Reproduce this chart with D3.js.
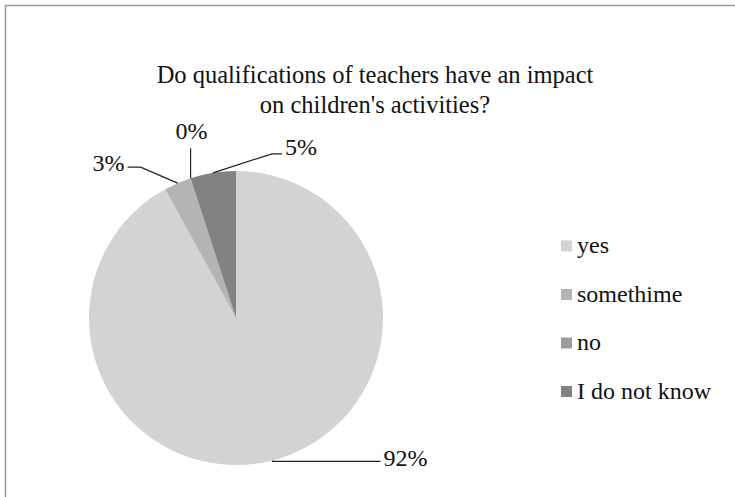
<!DOCTYPE html>
<html>
<head>
<meta charset="utf-8">
<script src="https://cdn.jsdelivr.net/npm/d3@7/dist/d3.min.js"></script>
<style>
  html, body { margin: 0; padding: 0; background: #fff; }
  svg { display: block; }
</style>
</head>
<body>
<svg id="chart" width="735" height="497"></svg>
<script>
// Survey answers and their shares (percent)
const categories = ["yes", "somethime", "no", "I do not know"];
const shares = [92, 3, 0, 5];
const sliceColors = ["#d3d3d3", "#b4b4b4", "#9c9c9c", "#828282"];
const titleLines = ["Do qualifications of teachers have an impact", "on children's activities?"];

const W = 735, H = 497;
const FONT = '"Liberation Serif"';
const svg = d3.select("#chart");

// outer frame (runs off the right and bottom edges)
svg.append("rect")
  .attr("x", 5.5).attr("y", 5.5)
  .attr("width", W + 20).attr("height", H + 20)
  .attr("fill", "#fff")
  .attr("stroke", "#9a9a9a").attr("stroke-width", 1.5);

// title
titleLines.forEach((line, i) => {
  svg.append("text")
    .attr("x", 375)
    .attr("y", 83 + i * 30)
    .attr("text-anchor", "middle")
    .style("font-family", FONT)
    .attr("font-size", 24.5)
    .attr("fill", "#111")
    .text(line);
});

// pie
const cx = 236, cy = 318, R = 147;
const data = categories.map((c, i) => ({ name: c, value: shares[i], color: sliceColors[i] }));
const pie = d3.pie().sort(null).value(d => d.value);
const arcs = pie(data);
const arc = d3.arc().innerRadius(0).outerRadius(R);

const g = svg.append("g").attr("transform", `translate(${cx},${cy})`);
g.selectAll("path").data(arcs).join("path")
  .attr("d", arc)
  .attr("fill", d => d.data.color);

// data labels with leader lines, each starting on its slice's outer edge
// bend: offset of the elbow from the edge point, run: horizontal segment, text: offset from line end
const labelLayout = {
  "yes":           { bend: [0, 1],     run: 108, anchor: "start",  text: [3, 5] },
  "somethime":     { bend: [-37, -16], run: -13, anchor: "end",    text: [-3, 4] },
  "no":            { bend: [0, -30],   run: 0,   anchor: "middle", text: [1, -9] },
  "I do not know": { bend: [59, -19],  run: 10,  anchor: "start",  text: [3, 1] }
};

const labels = svg.append("g");
arcs.forEach(a => {
  const mid = (a.startAngle + a.endAngle) / 2;
  const px = cx + R * Math.sin(mid);
  const py = cy - R * Math.cos(mid);
  const L = labelLayout[a.data.name];
  const bx = px + L.bend[0], by = py + L.bend[1];
  const ex = bx + L.run, ey = by;
  labels.append("polyline")
    .attr("points", [[px, py], [bx, by], [ex, ey]].map(p => p.join(",")).join(" "))
    .attr("fill", "none")
    .attr("stroke", "#222")
    .attr("stroke-width", 1.2);
  labels.append("text")
    .attr("x", ex + L.text[0])
    .attr("y", ey + L.text[1])
    .attr("text-anchor", L.anchor)
    .style("font-family", FONT)
    .attr("font-size", 24)
    .attr("fill", "#111")
    .text(d3.format(".0f")(a.data.value) + "%");
});

// legend
const legend = svg.append("g").attr("transform", "translate(561,246)");
const item = legend.selectAll("g").data(data).join("g")
  .attr("transform", (d, i) => `translate(0,${i * 48.5})`);
item.append("rect")
  .attr("x", 0).attr("y", -5.5)
  .attr("width", 11).attr("height", 11)
  .attr("fill", d => d.color);
item.append("text")
  .attr("x", 16).attr("y", 7)
  .style("font-family", FONT)
  .attr("font-size", 24)
  .attr("fill", "#111")
  .text(d => d.name);
</script>
</body>
</html>
